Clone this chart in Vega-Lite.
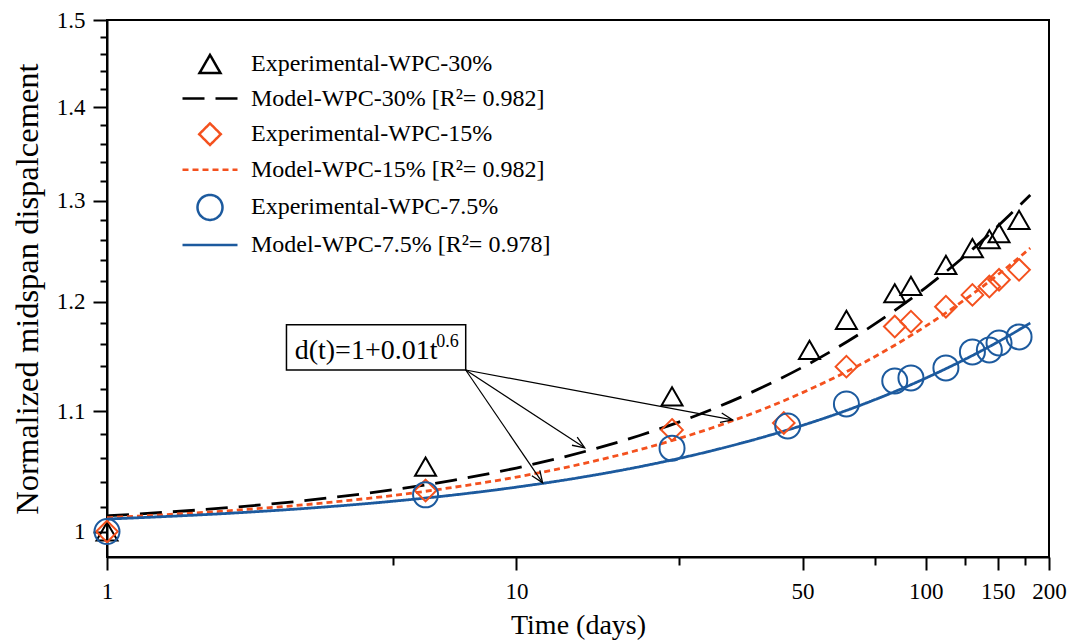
{
  "$schema": "https://vega.github.io/schema/vega-lite/v6.json",
  "width": 942,
  "height": 537,
  "autosize": {"type": "none"},
  "padding": {"left": 107, "top": 20, "right": 23, "bottom": 86},
  "background": "white",
  "config": {
    "view": {"stroke": "black", "strokeWidth": 2},
    "font": "Liberation Serif",
    "legend": {"labelFont": "Liberation Serif", "labelFontSize": 24, "labelColor": "black", "titleFont": "Liberation Serif"},
    "axis": {"domainColor": "black", "domainWidth": 2, "tickColor": "black", "tickWidth": 2, "labelFont": "Liberation Serif", "labelColor": "black", "labelFontSize": 23, "titleFont": "Liberation Serif", "titleFontSize": 28, "titleFontWeight": "normal", "titleColor": "black", "grid": false}
  },
  "datasets": {
    "model": [
      {"series": "Model-WPC-30% [R²= 0.982]", "t": 1, "d": 1.0125},
      {"series": "Model-WPC-30% [R²= 0.982]", "t": 2, "d": 1.0192},
      {"series": "Model-WPC-30% [R²= 0.982]", "t": 3, "d": 1.0246},
      {"series": "Model-WPC-30% [R²= 0.982]", "t": 5, "d": 1.0337},
      {"series": "Model-WPC-30% [R²= 0.982]", "t": 7, "d": 1.0414},
      {"series": "Model-WPC-30% [R²= 0.982]", "t": 10, "d": 1.0516},
      {"series": "Model-WPC-30% [R²= 0.982]", "t": 15, "d": 1.0663},
      {"series": "Model-WPC-30% [R²= 0.982]", "t": 20, "d": 1.0791},
      {"series": "Model-WPC-30% [R²= 0.982]", "t": 30, "d": 1.1016},
      {"series": "Model-WPC-30% [R²= 0.982]", "t": 40, "d": 1.1213},
      {"series": "Model-WPC-30% [R²= 0.982]", "t": 50, "d": 1.1391},
      {"series": "Model-WPC-30% [R²= 0.982]", "t": 70, "d": 1.1712},
      {"series": "Model-WPC-30% [R²= 0.982]", "t": 100, "d": 1.2133},
      {"series": "Model-WPC-30% [R²= 0.982]", "t": 130, "d": 1.2506},
      {"series": "Model-WPC-30% [R²= 0.982]", "t": 160, "d": 1.2849},
      {"series": "Model-WPC-30% [R²= 0.982]", "t": 180, "d": 1.3057},
      {"series": "Model-WPC-15% [R²= 0.982]", "t": 1, "d": 1.0110},
      {"series": "Model-WPC-15% [R²= 0.982]", "t": 2, "d": 1.0167},
      {"series": "Model-WPC-15% [R²= 0.982]", "t": 3, "d": 1.0213},
      {"series": "Model-WPC-15% [R²= 0.982]", "t": 5, "d": 1.0290},
      {"series": "Model-WPC-15% [R²= 0.982]", "t": 7, "d": 1.0356},
      {"series": "Model-WPC-15% [R²= 0.982]", "t": 10, "d": 1.0441},
      {"series": "Model-WPC-15% [R²= 0.982]", "t": 15, "d": 1.0563},
      {"series": "Model-WPC-15% [R²= 0.982]", "t": 20, "d": 1.0670},
      {"series": "Model-WPC-15% [R²= 0.982]", "t": 30, "d": 1.0855},
      {"series": "Model-WPC-15% [R²= 0.982]", "t": 40, "d": 1.1017},
      {"series": "Model-WPC-15% [R²= 0.982]", "t": 50, "d": 1.1164},
      {"series": "Model-WPC-15% [R²= 0.982]", "t": 70, "d": 1.1425},
      {"series": "Model-WPC-15% [R²= 0.982]", "t": 100, "d": 1.1768},
      {"series": "Model-WPC-15% [R²= 0.982]", "t": 130, "d": 1.2070},
      {"series": "Model-WPC-15% [R²= 0.982]", "t": 160, "d": 1.2347},
      {"series": "Model-WPC-15% [R²= 0.982]", "t": 180, "d": 1.2519},
      {"series": "Model-WPC-7.5% [R²= 0.978]", "t": 1, "d": 1.0099},
      {"series": "Model-WPC-7.5% [R²= 0.978]", "t": 2, "d": 1.0146},
      {"series": "Model-WPC-7.5% [R²= 0.978]", "t": 3, "d": 1.0183},
      {"series": "Model-WPC-7.5% [R²= 0.978]", "t": 5, "d": 1.0243},
      {"series": "Model-WPC-7.5% [R²= 0.978]", "t": 7, "d": 1.0293},
      {"series": "Model-WPC-7.5% [R²= 0.978]", "t": 10, "d": 1.0358},
      {"series": "Model-WPC-7.5% [R²= 0.978]", "t": 15, "d": 1.0449},
      {"series": "Model-WPC-7.5% [R²= 0.978]", "t": 20, "d": 1.0527},
      {"series": "Model-WPC-7.5% [R²= 0.978]", "t": 30, "d": 1.0661},
      {"series": "Model-WPC-7.5% [R²= 0.978]", "t": 40, "d": 1.0776},
      {"series": "Model-WPC-7.5% [R²= 0.978]", "t": 50, "d": 1.0878},
      {"series": "Model-WPC-7.5% [R²= 0.978]", "t": 70, "d": 1.1059},
      {"series": "Model-WPC-7.5% [R²= 0.978]", "t": 100, "d": 1.1293},
      {"series": "Model-WPC-7.5% [R²= 0.978]", "t": 130, "d": 1.1497},
      {"series": "Model-WPC-7.5% [R²= 0.978]", "t": 160, "d": 1.1681},
      {"series": "Model-WPC-7.5% [R²= 0.978]", "t": 180, "d": 1.1797}
    ],
    "exp": [
      {"series": "Experimental-WPC-30%", "t": 1, "d": 1.0},
      {"series": "Experimental-WPC-30%", "t": 6, "d": 1.0528},
      {"series": "Experimental-WPC-30%", "t": 24, "d": 1.1130},
      {"series": "Experimental-WPC-30%", "t": 52, "d": 1.1548},
      {"series": "Experimental-WPC-30%", "t": 64, "d": 1.1826},
      {"series": "Experimental-WPC-30%", "t": 84, "d": 1.2079},
      {"series": "Experimental-WPC-30%", "t": 92, "d": 1.2149},
      {"series": "Experimental-WPC-30%", "t": 112, "d": 1.2353},
      {"series": "Experimental-WPC-30%", "t": 130, "d": 1.2518},
      {"series": "Experimental-WPC-30%", "t": 143, "d": 1.2607},
      {"series": "Experimental-WPC-30%", "t": 151, "d": 1.2668},
      {"series": "Experimental-WPC-30%", "t": 169, "d": 1.2803},
      {"series": "Experimental-WPC-15%", "t": 1, "d": 1.0},
      {"series": "Experimental-WPC-15%", "t": 6, "d": 1.033},
      {"series": "Experimental-WPC-15%", "t": 24, "d": 1.0839},
      {"series": "Experimental-WPC-15%", "t": 45, "d": 1.0899},
      {"series": "Experimental-WPC-15%", "t": 64, "d": 1.1396},
      {"series": "Experimental-WPC-15%", "t": 84, "d": 1.1764},
      {"series": "Experimental-WPC-15%", "t": 92, "d": 1.1810},
      {"series": "Experimental-WPC-15%", "t": 112, "d": 1.1951},
      {"series": "Experimental-WPC-15%", "t": 130, "d": 1.2063},
      {"series": "Experimental-WPC-15%", "t": 143, "d": 1.2143},
      {"series": "Experimental-WPC-15%", "t": 151, "d": 1.2208},
      {"series": "Experimental-WPC-15%", "t": 169, "d": 1.2305},
      {"series": "Experimental-WPC-7.5%", "t": 1, "d": 1.0},
      {"series": "Experimental-WPC-7.5%", "t": 6, "d": 1.0295},
      {"series": "Experimental-WPC-7.5%", "t": 24, "d": 1.0683},
      {"series": "Experimental-WPC-7.5%", "t": 46, "d": 1.0873},
      {"series": "Experimental-WPC-7.5%", "t": 64, "d": 1.1064},
      {"series": "Experimental-WPC-7.5%", "t": 84, "d": 1.1268},
      {"series": "Experimental-WPC-7.5%", "t": 92, "d": 1.1295},
      {"series": "Experimental-WPC-7.5%", "t": 112, "d": 1.1385},
      {"series": "Experimental-WPC-7.5%", "t": 130, "d": 1.1530},
      {"series": "Experimental-WPC-7.5%", "t": 143, "d": 1.1548},
      {"series": "Experimental-WPC-7.5%", "t": 151, "d": 1.1612},
      {"series": "Experimental-WPC-7.5%", "t": 169, "d": 1.1668}
    ],
    "box": [{"t1": 2.744, "t2": 7.52, "d1": 1.178, "d2": 1.1366}],
    "arrows": [
      {"t1": 7.52, "d1": 1.1366, "t2": 33.75, "d2": 1.0925},
      {"t1": 7.52, "d1": 1.1366, "t2": 14.68, "d2": 1.0686},
      {"t1": 7.52, "d1": 1.1366, "t2": 11.59, "d2": 1.0393}
    ],
    "formula": [{"t": 2.874, "d": 1.1463, "label": "d(t)=1+0.01t"}],
    "formulaSup": [{"t": 6.376, "d": 1.1576, "label": "0.6"}]
  },
  "layer": [
    {
      "data": {"name": "model"},
      "mark": {"type": "line", "strokeWidth": 2.8, "strokeCap": "butt", "interpolate": "monotone"},
      "encoding": {
        "x": {"field": "t", "type": "quantitative", "scale": {"type": "log", "domain": [1, 200], "nice": false, "zero": false},
          "axis": {"orient": "bottom", "values": [1, 10, 50, 100, 150, 200], "format": "d", "tickSize": 13, "labelPadding": 10, "title": "Time (days)", "titlePadding": 8, "labelFlush": false, "labelOverlap": false}},
        "y": {"field": "d", "type": "quantitative", "scale": {"type": "log", "domain": [0.98, 1.5], "nice": false, "zero": false},
          "axis": {"orient": "left", "values": [1, 1.1, 1.2, 1.3, 1.4, 1.5], "format": "~g", "tickSize": 14, "labelPadding": 8, "title": "Normalized midspan dispalcement", "titleFontSize": 32.5, "titlePadding": 12, "labelFlush": false, "labelOverlap": false}},
        "color": {"field": "series", "type": "nominal",
          "scale": {"domain": ["Experimental-WPC-30%", "Model-WPC-30% [R²= 0.982]", "Experimental-WPC-15%", "Model-WPC-15% [R²= 0.982]", "Experimental-WPC-7.5%", "Model-WPC-7.5% [R²= 0.978]"],
            "range": ["#000000", "#000000", "#F4511E", "#F4511E", "#1C5A9E", "#1C5A9E"]},
          "legend": {"orient": "none", "legendX": 91, "legendY": 32, "title": null, "labelFont": "Liberation Serif", "labelFontSize": 24, "labelColor": "black", "labelLimit": 500, "symbolSize": 400, "symbolStrokeWidth": 2.5, "symbolFillColor": "transparent", "labelOffset": 29, "rowPadding": 7.6, "padding": 0}},
        "strokeDash": {"field": "series", "type": "nominal",
          "scale": {"domain": ["Experimental-WPC-30%", "Model-WPC-30% [R²= 0.982]", "Experimental-WPC-15%", "Model-WPC-15% [R²= 0.982]", "Experimental-WPC-7.5%", "Model-WPC-7.5% [R²= 0.978]"],
            "range": [[1, 0], [22, 11], [1, 0], [6, 4], [1, 0], [1, 0]]},
          "legend": {"orient": "none", "legendX": 91, "legendY": 32, "title": null, "labelFont": "Liberation Serif", "labelFontSize": 24, "labelColor": "black", "labelLimit": 500, "symbolSize": 400, "symbolStrokeWidth": 2.5, "symbolFillColor": "transparent", "labelOffset": 29, "rowPadding": 7.6, "padding": 0}}
      }
    },
    {
      "data": {"name": "exp"},
      "mark": {"type": "point", "filled": false, "size": 400, "strokeWidth": 2, "opacity": 1},
      "encoding": {
        "x": {"field": "t", "type": "quantitative", "scale": {"type": "log", "domain": [1, 200], "nice": false, "zero": false},
          "axis": {"orient": "bottom", "values": [5, 25, 75, 125, 175], "labels": false, "tickSize": 8, "title": null, "domain": false}},
        "y": {"field": "d", "type": "quantitative", "scale": {"type": "log", "domain": [0.98, 1.5], "nice": false, "zero": false},
          "axis": {"orient": "left", "values": [1.02, 1.04, 1.06, 1.08, 1.12, 1.14, 1.16, 1.18, 1.22, 1.24, 1.26, 1.28, 1.32, 1.34, 1.36, 1.38, 1.42, 1.44, 1.46, 1.48], "labels": false, "tickSize": 7, "title": null, "domain": false}},
        "color": {"field": "series", "type": "nominal",
          "scale": {"domain": ["Experimental-WPC-30%", "Model-WPC-30% [R²= 0.982]", "Experimental-WPC-15%", "Model-WPC-15% [R²= 0.982]", "Experimental-WPC-7.5%", "Model-WPC-7.5% [R²= 0.978]"],
            "range": ["#000000", "#000000", "#F4511E", "#F4511E", "#1C5A9E", "#1C5A9E"]},
          "legend": {"orient": "none", "legendX": 91, "legendY": 32, "title": null, "labelFont": "Liberation Serif", "labelFontSize": 24, "labelColor": "black", "labelLimit": 500, "symbolSize": 400, "symbolStrokeWidth": 2.5, "symbolFillColor": "transparent", "labelOffset": 29, "rowPadding": 7.6, "padding": 0}},
        "shape": {"field": "series", "type": "nominal",
          "scale": {"domain": ["Experimental-WPC-30%", "Model-WPC-30% [R²= 0.982]", "Experimental-WPC-15%", "Model-WPC-15% [R²= 0.982]", "Experimental-WPC-7.5%", "Model-WPC-7.5% [R²= 0.978]"],
            "range": ["M0,-0.91L1.05,0.91L-1.05,0.91Z", "M-2.75,0L2.75,0", "M0,-1.08L1.08,0L0,1.08L-1.08,0Z", "M-2.75,0L2.75,0", "M1.25,0A1.25,1.25,0,1,1,-1.25,0A1.25,1.25,0,1,1,1.25,0Z", "M-2.75,0L2.75,0"]},
          "legend": {"orient": "none", "legendX": 91, "legendY": 32, "title": null, "labelFont": "Liberation Serif", "labelFontSize": 24, "labelColor": "black", "labelLimit": 500, "symbolSize": 400, "symbolStrokeWidth": 2.5, "symbolFillColor": "transparent", "labelOffset": 29, "rowPadding": 7.6, "padding": 0}}
      }
    },
    {
      "data": {"name": "arrows"},
      "mark": {"type": "rule", "color": "black", "strokeWidth": 1.2},
      "encoding": {
        "x": {"field": "t1", "type": "quantitative", "scale": {"type": "log", "domain": [1, 200], "nice": false, "zero": false}, "axis": null},
        "x2": {"field": "t2"},
        "y": {"field": "d1", "type": "quantitative", "scale": {"type": "log", "domain": [0.98, 1.5], "nice": false, "zero": false}, "axis": null},
        "y2": {"field": "d2"}
      }
    },
    {
      "data": {"values": [{"t": 33.75, "d": 1.0925}]},
      "mark": {"type": "point", "filled": false, "shape": "M-1,-0.4L0,0L-1,0.4", "size": 576, "angle": 10.6, "stroke": "black", "strokeWidth": 1.3, "opacity": 1},
      "encoding": {
        "x": {"field": "t", "type": "quantitative", "scale": {"type": "log", "domain": [1, 200], "nice": false, "zero": false}, "axis": null},
        "y": {"field": "d", "type": "quantitative", "scale": {"type": "log", "domain": [0.98, 1.5], "nice": false, "zero": false}, "axis": null}
      }
    },
    {
      "data": {"values": [{"t": 14.68, "d": 1.0686}]},
      "mark": {"type": "point", "filled": false, "shape": "M-1,-0.4L0,0L-1,0.4", "size": 576, "angle": 33.2, "stroke": "black", "strokeWidth": 1.3, "opacity": 1},
      "encoding": {
        "x": {"field": "t", "type": "quantitative", "scale": {"type": "log", "domain": [1, 200], "nice": false, "zero": false}, "axis": null},
        "y": {"field": "d", "type": "quantitative", "scale": {"type": "log", "domain": [0.98, 1.5], "nice": false, "zero": false}, "axis": null}
      }
    },
    {
      "data": {"values": [{"t": 11.59, "d": 1.0393}]},
      "mark": {"type": "point", "filled": false, "shape": "M-1,-0.4L0,0L-1,0.4", "size": 576, "angle": 55.7, "stroke": "black", "strokeWidth": 1.3, "opacity": 1},
      "encoding": {
        "x": {"field": "t", "type": "quantitative", "scale": {"type": "log", "domain": [1, 200], "nice": false, "zero": false}, "axis": null},
        "y": {"field": "d", "type": "quantitative", "scale": {"type": "log", "domain": [0.98, 1.5], "nice": false, "zero": false}, "axis": null}
      }
    },
    {
      "data": {"name": "box"},
      "mark": {"type": "rect", "fill": "white", "stroke": "black", "strokeWidth": 1.5},
      "encoding": {
        "x": {"field": "t1", "type": "quantitative", "scale": {"type": "log", "domain": [1, 200], "nice": false, "zero": false}, "axis": null},
        "x2": {"field": "t2"},
        "y": {"field": "d1", "type": "quantitative", "scale": {"type": "log", "domain": [0.98, 1.5], "nice": false, "zero": false}, "axis": null},
        "y2": {"field": "d2"}
      }
    },
    {
      "data": {"name": "formula"},
      "mark": {"type": "text", "align": "left", "baseline": "alphabetic", "font": "Liberation Serif", "fontSize": 28, "color": "black"},
      "encoding": {
        "x": {"field": "t", "type": "quantitative", "scale": {"type": "log", "domain": [1, 200], "nice": false, "zero": false}, "axis": null},
        "y": {"field": "d", "type": "quantitative", "scale": {"type": "log", "domain": [0.98, 1.5], "nice": false, "zero": false}, "axis": null},
        "text": {"field": "label"}
      }
    },
    {
      "data": {"name": "formulaSup"},
      "mark": {"type": "text", "align": "left", "baseline": "alphabetic", "font": "Liberation Serif", "fontSize": 18, "color": "black"},
      "encoding": {
        "x": {"field": "t", "type": "quantitative", "scale": {"type": "log", "domain": [1, 200], "nice": false, "zero": false}, "axis": null},
        "y": {"field": "d", "type": "quantitative", "scale": {"type": "log", "domain": [0.98, 1.5], "nice": false, "zero": false}, "axis": null},
        "text": {"field": "label"}
      }
    }
  ],
  "resolve": {"axis": {"x": "independent", "y": "independent"}}
}
